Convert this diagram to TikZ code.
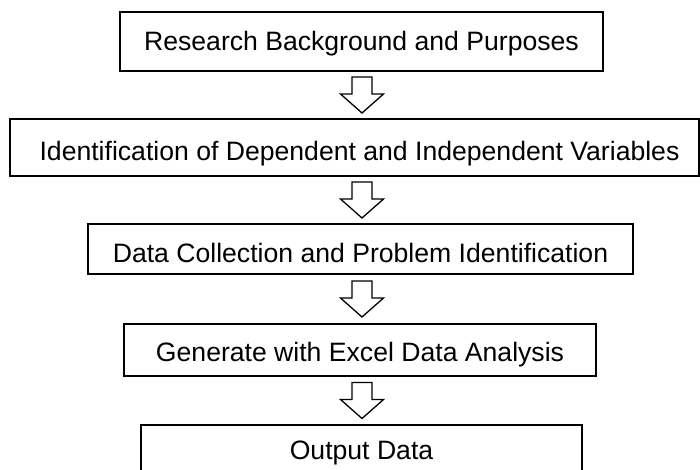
\documentclass[tikz,border=0pt]{standalone}
\usepackage{fontspec}
\setmainfont{Liberation Sans}
\usepackage{tikz}
\usetikzlibrary{calc}

\tikzset{
  stepbox/.style = {draw = black, line width = 1.6pt, rectangle, inner sep = 0pt,
    font = \fontsize{26.6}{30}\selectfont, text height = 19pt, text depth = 0pt},
  blockarrow/.style = {draw = black, fill = white, line width = 1.3pt, line join = miter}
}

\begin{document}
\begin{tikzpicture}[x = 1pt, y = -1pt]
        \useasboundingbox (0,0) rectangle (700,470);
        \clip (0,0) rectangle (700,470);
        \node[stepbox, minimum width = 483pt, minimum height = 59pt] (bg) at (361.5,41.5) {Research Background and Purposes};
        \node[stepbox, minimum width = 689pt, minimum height = 57pt, text height = 26pt] (idv) at (354.5,147.5) {\hspace*{10pt}Identification of Dependent and Independent Variables};
        \node[stepbox, minimum width = 545pt, minimum height = 50pt, text height = 26pt] (dc) at (360.5,249) {Data Collection and Problem Identification};
        \node[stepbox, minimum width = 472pt, minimum height = 52pt, text height = 23pt] (gen) at (360,350) {Generate with Excel Data Analysis};
        \node[stepbox, minimum width = 441pt, minimum height = 50pt] (out) at (361.5,450) {Output Data};
        \coordinate (axis) at (362,0);
        \foreach \a/\b in {bg/idv, idv/dc, dc/gen, gen/out} {
          \path ($(\a.south)!0.5!(\b.north)$) coordinate (mid);
          \draw[blockarrow, shift = {(axis |- mid)}] (-10,-18) -- (10,-18) -- (10,-1) -- (21.5,-1) -- (0,18) -- (-21.5,-1) -- (-10,-1) -- cycle;
        }
      \end{tikzpicture}
\end{document}
